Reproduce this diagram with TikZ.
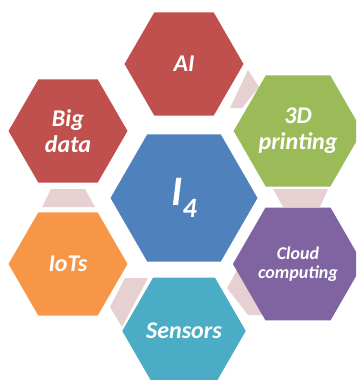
\documentclass[tikz,border=0pt]{standalone}
\usepackage{fontspec}
\setmainfont{Carlito}
\usetikzlibrary{shapes.geometric}
\definecolor{hexred}{RGB}{192,80,77}
\definecolor{hexgreen}{RGB}{155,187,89}
\definecolor{hexpurple}{RGB}{128,100,162}
\definecolor{hexorange}{RGB}{247,150,70}
\definecolor{hexaqua}{RGB}{75,172,198}
\definecolor{hexblue}{RGB}{79,129,189}
\definecolor{linkpink}{RGB}{231,208,210}

\begin{document}
\begin{tikzpicture}[x=1pt,y=1pt,
    hexa/.style={regular polygon,regular polygon sides=6,minimum size=119pt,
      inner sep=0pt,outer sep=0pt,text=white,align=center,
      font=\fontsize{24}{26}\selectfont\bfseries\itshape},
    link/.style={fill=linkpink}]
    \useasboundingbox (0,0) rectangle (356,-380);
    \clip (0,0) rectangle (356,-380);
    \fill[link] (248,-70) -- (259,-87) -- (242,-108) -- (230,-108) -- cycle;
    \fill[link] (51,-189) -- (85,-189) -- (95,-207) -- (42,-207) -- cycle;
    \fill[link] (273,-189) -- (328,-189) -- (320,-207) -- (283,-207) -- cycle;
    \fill[link] (125,-278) -- (148,-278) -- (122,-327) -- (110,-307) -- cycle;
    \fill[link] (237,-270) -- (263,-315) -- (248,-315) -- (227,-288) -- cycle;
    \node[hexa,fill=hexred] (ai) at (184,-64) {AI};
    \node[hexa,fill=hexred] (bigdata) at (68,-131) {Big\\data};
    \node[hexa,fill=hexgreen] (printing) at (298,-131) {3D\\printing};
    \node[hexa,fill=hexorange] (iots) at (68,-264) {IoTs};
    \node[hexa,fill=hexpurple,font=\fontsize{18}{19}\selectfont\bfseries\itshape] (cloud) at (298,-264) {Cloud\\computing};
    \node[hexa,fill=hexaqua] (sensors) at (184,-331) {Sensors};
    \node[hexa,fill=hexblue,minimum size=147pt,font=\fontsize{42}{42}\selectfont\bfseries\itshape] (ifour) at (184,-198)
      {I\raisebox{-0.3em}{\fontsize{28}{28}\selectfont 4}};
\end{tikzpicture}
\end{document}
